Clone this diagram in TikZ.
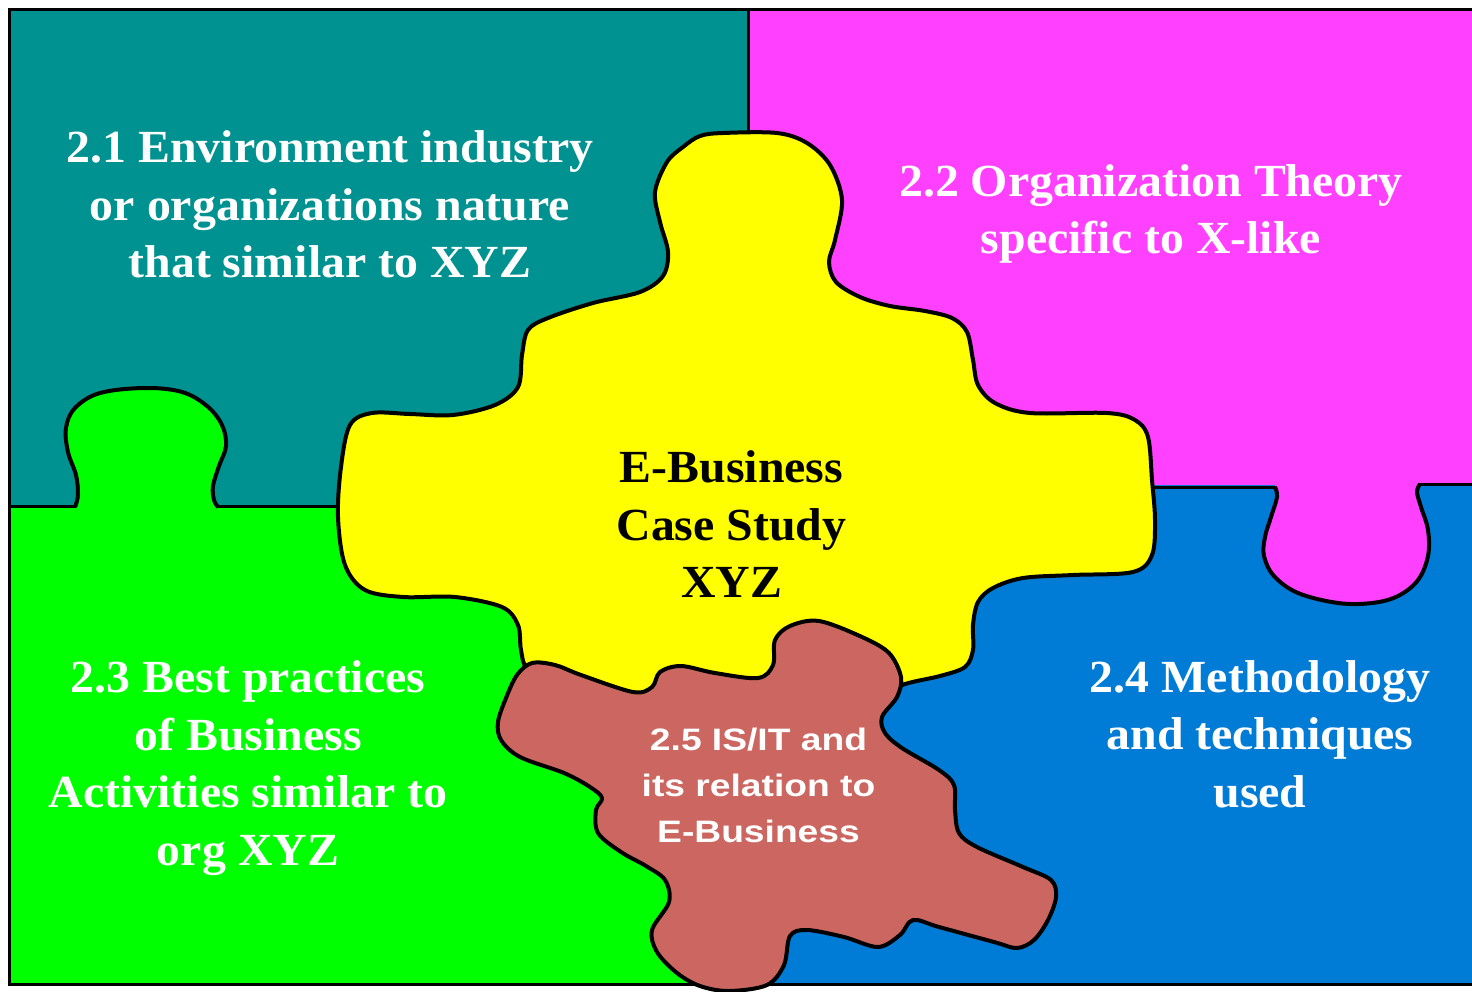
\documentclass[tikz,border=0pt]{standalone}
\usepackage{fontspec}
\newfontfamily\puzzleserif{Liberation Serif}[FakeStretch=1.04]
\newfontfamily\puzzlesans{Liberation Sans}[FakeStretch=1.2]
\definecolor{pteal}{RGB}{0,145,145}
\definecolor{pmag}{RGB}{255,64,255}
\definecolor{pgreen}{RGB}{0,255,0}
\definecolor{pblue}{RGB}{0,124,214}
\definecolor{pyellow}{RGB}{255,255,0}
\definecolor{pbrown}{RGB}{204,102,96}
\tikzset{
  piece/.style={draw=black, line width=2pt, line join=round},
  divider/.style={draw=black, line width=1.5pt},
  lbl/.style={text=white, font=\puzzleserif\bfseries\fontsize{23}{28.75}\selectfont, align=center, inner sep=0pt},
  sanslbl/.style={text=white, font=\puzzlesans\bfseries\fontsize{15.5}{23}\selectfont, align=center, inner sep=0pt}
}
\begin{document}
\begin{tikzpicture}[x=0.5pt, y=-0.5pt]
\useasboundingbox (0,0) rectangle (1472,991);
% background regions
\fill[pteal] (9,9) rectangle (748,506);
\fill[pmag] (748,9) rectangle (1472,485);
\fill[pgreen] (9,506) rectangle (700,984);
\fill[pblue] (700,485) rectangle (1472,984);
% green knob
\path[fill=pgreen] plot[smooth, tension=0.6] coordinates {(75,507) (78,495) (76,475) (68,452) (66,428) (75,408) (100,393) (145,388) (182,392) (207,406) (222,425) (226,446) (219,466) (213,486) (214,500) (218,507)} -- (218,512) -- (75,512) -- cycle;
\draw[piece] plot[smooth, tension=0.6] coordinates {(75,507) (78,495) (76,475) (68,452) (66,428) (75,408) (100,393) (145,388) (182,392) (207,406) (222,425) (226,446) (219,466) (213,486) (214,500) (218,507)};
% magenta knob
\path[fill=pmag] plot[smooth, tension=0.6] coordinates {(1275,487) (1277,497) (1271,517) (1265,537) (1264,556) (1274,576) (1298,593) (1338,603) (1372,603) (1398,596) (1418,580) (1428,556) (1428,530) (1421,507) (1417,492) (1420,484)} -- (1420,478) -- (1275,478) -- cycle;
\draw[piece] plot[smooth, tension=0.6] coordinates {(1275,487) (1277,497) (1271,517) (1265,537) (1264,556) (1274,576) (1298,593) (1338,603) (1372,603) (1398,596) (1418,580) (1428,556) (1428,530) (1421,507) (1417,492) (1420,484)};
% dividers and frame
\coordinate (fTR) at (1472,9);
\coordinate (fTL) at (9,9);
\coordinate (fBL) at (9,984);
\coordinate (fBR) at (1472,984);
\draw[divider] (9,506) -- (76,506);
\draw[divider] (217,506) -- (345,506);
\draw[divider] (1145,487) -- (1276,487);
\draw[divider] (1419,484) -- (1472,484);
\draw[divider] (748,9) -- (748,140);
\draw[divider] (fTR) -- (fTL) -- (fBL) -- (fBR);
% yellow centre piece
\path[piece, fill=pyellow] plot[smooth cycle, tension=0.55] coordinates {
(700,136) (723,133) (777,133) (807,143) (830,165) (842,200) (835,240) (829,262) (836,282) (860,297) (890,306) (925,311) (952,318) (967,332) (973,360) (978,385) (995,403) (1030,413) (1107,413) (1135,420) (1148,437) (1152,480) (1155,520) (1152,555) (1133,572) (1073,575) (1023,578) (993,588) (978,602) (973,625) (973,650) (965,667) (940,676) (905,684) (860,700) (700,715) (560,690) (528,670) (521,650) (518,625) (502,607) (455,597) (403,597) (365,590) (345,565) (338,517) (341,467) (350,425) (372,413) (410,414) (453,415) (495,405) (518,387) (522,355) (528,330) (548,318) (593,303) (640,292) (663,276) (668,252) (660,222) (655,192) (667,162) (683,147)};
% brown piece
\path[piece, fill=pbrown] plot[smooth cycle, tension=0.55] coordinates {
(517,675) (532,663) (555,665) (581,675) (633,692) (652,687) (660,672) (681,666) (715,673) (758,678) (773,665) (775,640) (790,626) (819,621) (862,637) (889,653) (901,677) (897,697) (882,717) (885,733) (902,748) (939,770) (954,785) (955,810) (959,833) (977,847) (1023,867) (1051,880) (1056,897) (1048,920) (1034,940) (1017,948) (994,942) (939,927) (913,920) (900,935) (878,947) (844,937) (807,930) (790,936) (784,965) (767,985) (729,991) (700,986) (677,973) (657,952) (652,930) (669,902) (665,880) (646,866) (621,852) (598,833) (596,810) (602,798) (590,787) (564,773) (520,757) (501,740) (498,722) (506,698)};
% labels
\node[lbl] (t21) at (330,204.5) {2.1 Environment industry\\or organizations nature\\that similar to XYZ};
\node[lbl] (t22) at (1151,214) {2.2 Organization Theory\\specific to X-like};
\node[lbl, text=black] (tcase) at (731.5,524.5) {E-Business\\Case Study\\XYZ};
\node[lbl] (t23) at (248,768) {2.3 Best practices\\of Business\\Activities similar to\\org XYZ};
\node[lbl] (t24) at (1260,734) {2.4 Methodology\\and techniques\\used};
\node[sanslbl] (t25) at (758.5,785) {2.5 IS/IT and\\its relation to\\E-Business};
\end{tikzpicture}
\end{document}
